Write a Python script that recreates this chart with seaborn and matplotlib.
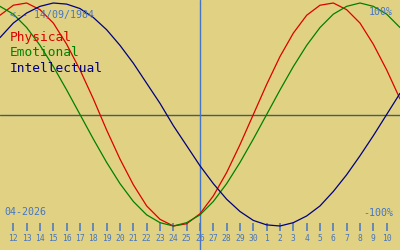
import matplotlib
matplotlib.use("Agg")
import matplotlib.pyplot as plt
import seaborn as sns
import pandas as pd

# Day of month (April 11 .. May 11, 2026, counted continuously)
days = [11, 12, 13, 14, 15, 16, 17, 18, 19, 20, 21, 22, 23, 24, 25, 26,
        27, 28, 29, 30, 31, 32, 33, 34, 35, 36, 37, 38, 39, 40, 41]
physical = [0.89, 0.98, 1.00, 0.94, 0.82, 0.63, 0.40, 0.14, -0.14, -0.40,
            -0.63, -0.82, -0.94, -1.00, -0.98, -0.89, -0.73, -0.52, -0.27, 0.00,
            0.27, 0.52, 0.73, 0.89, 0.98, 1.00, 0.94, 0.82, 0.63, 0.40, 0.14]
emotional = [0.97, 0.90, 0.78, 0.62, 0.43, 0.22, 0.00, -0.22, -0.43, -0.62,
             -0.78, -0.90, -0.97, -1.00, -0.97, -0.90, -0.78, -0.62, -0.43, -0.22,
             0.00, 0.22, 0.43, 0.62, 0.78, 0.90, 0.97, 1.00, 0.97, 0.90, 0.78]
intellectual = [0.69, 0.82, 0.91, 0.97, 1.00, 0.99, 0.95, 0.87, 0.76, 0.62,
                0.46, 0.28, 0.10, -0.10, -0.28, -0.46, -0.62, -0.76, -0.87, -0.95,
                -0.99, -1.00, -0.97, -0.91, -0.82, -0.69, -0.54, -0.37, -0.19, 0.00, 0.19]
tick_days = [12, 13, 14, 15, 16, 17, 18, 19, 20, 21, 22, 23, 24, 25, 26, 27,
             28, 29, 30, 31, 32, 33, 34, 35, 36, 37, 38, 39, 40]
tick_labels = ["12", "13", "14", "15", "16", "17", "18", "19", "20", "21",
               "22", "23", "24", "25", "26", "27", "28", "29", "30",
               "1", "2", "3", "4", "5", "6", "7", "8", "9", "10"]
today = 26
series_names = ["Physical", "Emotional", "Intellectual"]
series_colors = ["#dd0000", "#008000", "#000080"]

BG = "#e0d282"
BLUE = "#4575c4"

sns.set_style("white", {"axes.facecolor": BG, "figure.facecolor": BG})
plt.rcParams["font.family"] = ["DejaVu Sans Mono", "DejaVu Sans"]

fig = plt.figure(figsize=(4, 2.5), dpi=100)
ax = fig.add_axes([0, 0, 1, 1])
ax.set_facecolor(BG)

# pixel mapping: value 0 -> y=114.5 px, amplitude 111.5 px
c0, amp = 114.5, 111.5
ax.set_xlim(11, 41)
ax.set_ylim((c0 - 250) / amp, c0 / amp)

ax.axhline(0, color="#4a5a60", lw=1.0, zorder=1)
ax.axvline(today, color=BLUE, lw=1.0, zorder=1)

df = pd.DataFrame({"day": days, "Physical": physical,
                   "Emotional": emotional, "Intellectual": intellectual})
for name, col in zip(series_names, series_colors):
    sns.lineplot(data=df, x="day", y=name, color=col, lw=0.9, ax=ax, zorder=3)

for s in ax.spines.values():
    s.set_visible(False)
ax.spines["bottom"].set_position(("data", (c0 - 231) / amp))
ax.set_xticks(tick_days)
ax.set_xticklabels(tick_labels)
ax.tick_params(axis="x", direction="in", length=6, width=1.1, color=BLUE,
               labelcolor=BLUE, labelsize=5.8, pad=2.5, bottom=True)
ax.set_yticks([])
ax.set_xlabel("")
ax.set_ylabel("")

def px(x, y):
    return x / 400, 1 - y / 250

fig.text(*px(10, 15), "<-- 14/09/1984", color=BLUE, fontsize=7.2, va="center", ha="left")
fig.text(*px(393, 12), "100%", color=BLUE, fontsize=7.2, va="center", ha="right")
fig.text(*px(393, 213), "-100%", color=BLUE, fontsize=7.2, va="center", ha="right")
fig.text(*px(4, 212), "04-2026", color=BLUE, fontsize=7.2, va="center", ha="left")
for i, (name, col) in enumerate(zip(series_names, series_colors)):
    fig.text(*px(10, 38 + 15 * i), name, color=col, fontsize=9.3, va="center", ha="left")

fig.savefig("out.png", dpi=100, facecolor=BG)
